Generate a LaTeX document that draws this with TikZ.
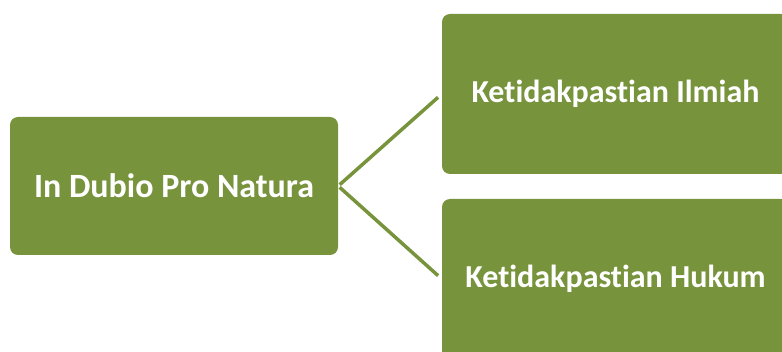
\documentclass[tikz,border=0pt]{standalone}
\usepackage{fontspec}
\setmainfont[Ligatures=NoCommon]{Carlito}
\definecolor{olive}{RGB}{119,147,60}
\begin{document}
\begin{tikzpicture}[x=1pt,y=-1pt,
  box/.style={draw=none,fill=olive,rounded corners=8pt,text=white,
    font=\fontsize{34}{39}\selectfont\bfseries,inner sep=0pt},
  rbox/.style={box,font=\fontsize{32}{37}\selectfont\bfseries,
    minimum width=347pt,minimum height=160pt},
  link/.style={draw=olive,line width=3.5pt}]
\useasboundingbox (0,0) rectangle (782,352);
\clip (0,0) rectangle (782,352);
\node[box,minimum width=328pt,minimum height=138pt] (L) at (174,186) {In Dubio Pro Natura};
\node[rbox] (T) at (615.5,94) {Ketidakpastian Ilmiah};
\node[rbox] (B) at (615.5,279) {Ketidakpastian Hukum};
\draw[link,shorten <=2pt,shorten >=5pt] (L.east) -- (T.west);
\draw[link,shorten <=2pt,shorten >=5pt] (L.east) -- (B.west);
\end{tikzpicture}
\end{document}
